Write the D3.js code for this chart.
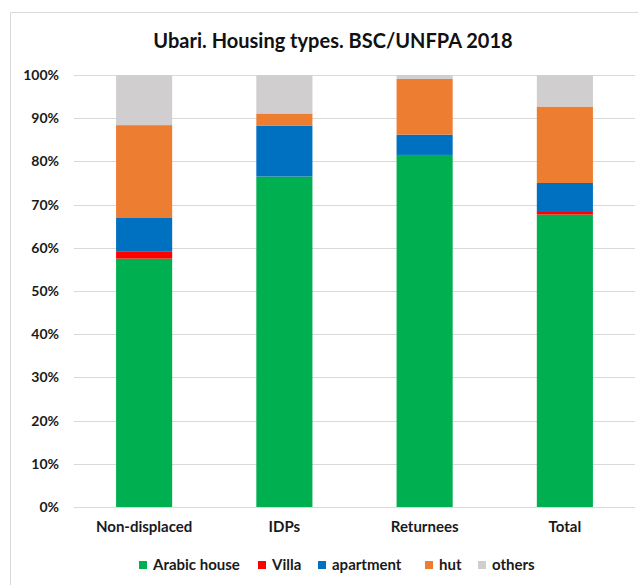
<!DOCTYPE html>
<html><head><meta charset="utf-8">
<script src="https://cdn.jsdelivr.net/npm/d3@7"></script>
<style>
html,body{margin:0;padding:0;background:#fff;}
svg{display:block;font-family:Lato,"Open Sans",sans-serif;}
</style></head>
<body>
<svg id="chart" width="638" height="585"></svg>
<script>
const categories = ["Non-displaced", "IDPs", "Returnees", "Total"];
const seriesNames = ["Arabic house", "Villa", "apartment", "hut", "others"];
const arabicHouse = [57.5, 76.5, 81.5, 67.7];
const villa       = [1.7, 0.0, 0.0, 0.8];
const apartment   = [7.7, 11.8, 4.7, 6.5];
const hut         = [21.5, 2.8, 12.9, 17.7];
const others      = [11.6, 8.9, 0.9, 7.3];
const yTicks = [0, 10, 20, 30, 40, 50, 60, 70, 80, 90, 100];
const colors = ["#00B050", "#FF0000", "#0070C0", "#ED7D31", "#D0CECE"];

const seriesValues = [arabicHouse, villa, apartment, hut, others];
const table = categories.map((c, i) => {
  const row = {category: c};
  seriesNames.forEach((s, j) => row[s] = seriesValues[j][i]);
  return row;
});

const svg = d3.select("#chart");
// chart frame
svg.append("path").attr("d", "M10.5,585 V12.5 H638").attr("fill", "none")
  .attr("stroke", "#d9d9d9").attr("stroke-width", 1);

const mLeft = 74, mRight = 635, mTop = 75, mBottom = 507;
const x = d3.scaleBand().domain(categories).range([mLeft, mRight]).paddingInner(0.6).paddingOuter(0.3);
const y = d3.scaleLinear().domain([0, 100]).range([mBottom, mTop]);

// gridlines
svg.append("g").selectAll("line").data(yTicks.filter(t => t > 0)).join("line")
  .attr("x1", mLeft).attr("x2", mRight)
  .attr("y1", d => Math.round(y(d)) + 0.5).attr("y2", d => Math.round(y(d)) + 0.5)
  .attr("stroke", "#d9d9d9").attr("stroke-width", 1);

// y axis labels
const yAxis = d3.axisLeft(y).tickValues(yTicks).tickFormat(d => d + "%").tickSize(0).tickPadding(0);
const ga = svg.append("g").attr("transform", `translate(${mLeft - 15},0)`).call(yAxis);
ga.select(".domain").remove();
ga.selectAll("text").attr("font-family", "Lato, sans-serif").attr("font-size", 14)
  .attr("font-weight", "bold").attr("fill", "#1a1a1a");

// stacks
const stack = d3.stack().keys(seriesNames)(table);
svg.append("g").selectAll("g").data(stack).join("g")
  .attr("fill", (d, i) => colors[i])
  .selectAll("rect").data(d => d).join("rect")
  .attr("x", d => x(d.data.category))
  .attr("width", x.bandwidth())
  .attr("y", d => y(d[1]))
  .attr("height", d => y(d[0]) - y(d[1]));

// x axis
const xAxis = d3.axisBottom(x).tickSize(0).tickPadding(14);
const gx = svg.append("g").attr("transform", `translate(0,${mBottom})`).call(xAxis);
gx.select(".domain").attr("stroke", "#d9d9d9").attr("d", `M${mLeft},0.5H${mRight}`);
gx.selectAll("text").attr("font-family", "Lato, sans-serif").attr("font-size", 15)
  .attr("font-weight", "bold").attr("fill", "#1a1a1a");

// title
svg.append("text").attr("x", 333).attr("y", 48).attr("text-anchor", "middle")
  .attr("font-size", 20).attr("font-weight", "bold").attr("fill", "#111")
  .text("Ubari. Housing types. BSC/UNFPA 2018");

// legend
const legendX = [139, 258, 318, 425, 478];
const lg = svg.append("g").selectAll("g").data(seriesNames).join("g")
  .attr("transform", (d, i) => `translate(${legendX[i]},565)`);
lg.append("rect").attr("x", 0).attr("y", -4).attr("width", 8).attr("height", 8)
  .attr("fill", (d, i) => colors[i]);
lg.append("text").attr("x", 14).attr("y", 0).attr("dy", "0.35em")
  .attr("font-size", 15).attr("font-weight", "bold").attr("fill", "#1a1a1a").text(d => d);
</script>
</body></html>
